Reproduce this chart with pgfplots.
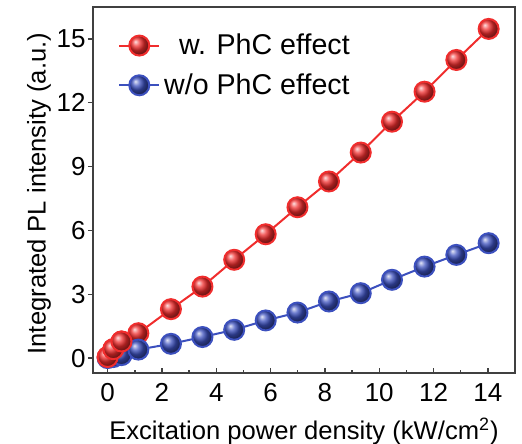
\documentclass[border=0pt]{standalone}
\usepackage{pgfplots}
\pgfplotsset{compat=1.18}
\usepackage{fontspec}
\setmainfont{Liberation Sans}
\definecolor{pcred}{RGB}{240,45,45}
\definecolor{pcblue}{RGB}{60,80,190}
\begin{document}
\begin{tikzpicture}
\begin{axis}[
  scale only axis,
  width=211pt, height=183pt,
  xmin=-0.54, xmax=15,
  ymin=-0.7, ymax=16.5,
  xtick={0,2,...,14},
  ytick={0,3,...,15},
  minor x tick num=1,
  xtick pos=bottom, ytick pos=left,
  xtick align=inside, ytick align=outside,
  major tick length=2.5pt, minor tick length=1.5pt,
  axis line style={draw=black!75, line width=0.9pt},
  tick style={draw=black!75, line width=0.7pt},
  /pgf/number format/assume math mode=true,
  tick label style={font=\fontsize{13}{15}\selectfont},
  yticklabel style={inner sep=1pt},
  xticklabel style={inner sep=1pt, yshift=-4pt},
  label style={font=\fontsize{12.8}{15}\selectfont},
  xlabel={Excitation power density (kW/cm\textsuperscript{2})},
  ylabel={Integrated PL intensity (a.u.)},
  xlabel style={at={(axis description cs:0.5,-0.16)}, anchor=center},
  ylabel style={at={(axis description cs:-0.128,0.49)}, anchor=center},
  legend style={at={(0.045,0.95)}, anchor=north west, draw=none, fill=none,
    font=\fontsize{14.3}{16}\selectfont, row sep=4pt},
  legend cell align=right,
  legend image code/.code={\draw[mark repeat=2,mark phase=2] plot coordinates {(0cm,0cm)(0.35cm,0cm)(0.7cm,0cm)};},
]
\addplot[color=pcred, line width=1pt, mark=ball, mark size=5pt, mark options={ball color=pcred}] coordinates {
  (0,0.05)(0.21,0.42)(0.51,0.78)(1.13,1.17)(2.33,2.30)(3.49,3.36)(4.66,4.62)
  (5.82,5.82)(6.99,7.09)(8.15,8.30)(9.32,9.66)(10.47,11.11)(11.67,12.52)
  (12.84,14.01)(14.03,15.47)
};
\addlegendentry{w. PhC effect}
\addplot[color=pcblue, line width=1pt, mark=ball, mark size=5pt, mark options={ball color=pcblue}] coordinates {
  (0,0)(0.21,0.05)(0.51,0.14)(1.13,0.40)(2.33,0.67)(3.49,0.99)(4.66,1.33)
  (5.82,1.77)(6.99,2.14)(8.15,2.66)(9.32,3.05)(10.47,3.68)(11.67,4.30)
  (12.84,4.85)(14.03,5.40)
};
\addlegendentry{w/o PhC effect}
% red drawn on top near the origin
\addplot[color=pcred, line width=1pt, mark=ball, mark size=5pt, mark options={ball color=pcred}, forget plot] coordinates {
  (0,0.05)(0.21,0.42)(0.51,0.78)
};
\end{axis}
\pgfresetboundingbox
\path[use as bounding box] ([xshift=-46.5pt,yshift=-35.5pt]current axis.south west)
  rectangle ([xshift=3.5pt,yshift=3.5pt]current axis.north east);
\end{tikzpicture}
\end{document}
